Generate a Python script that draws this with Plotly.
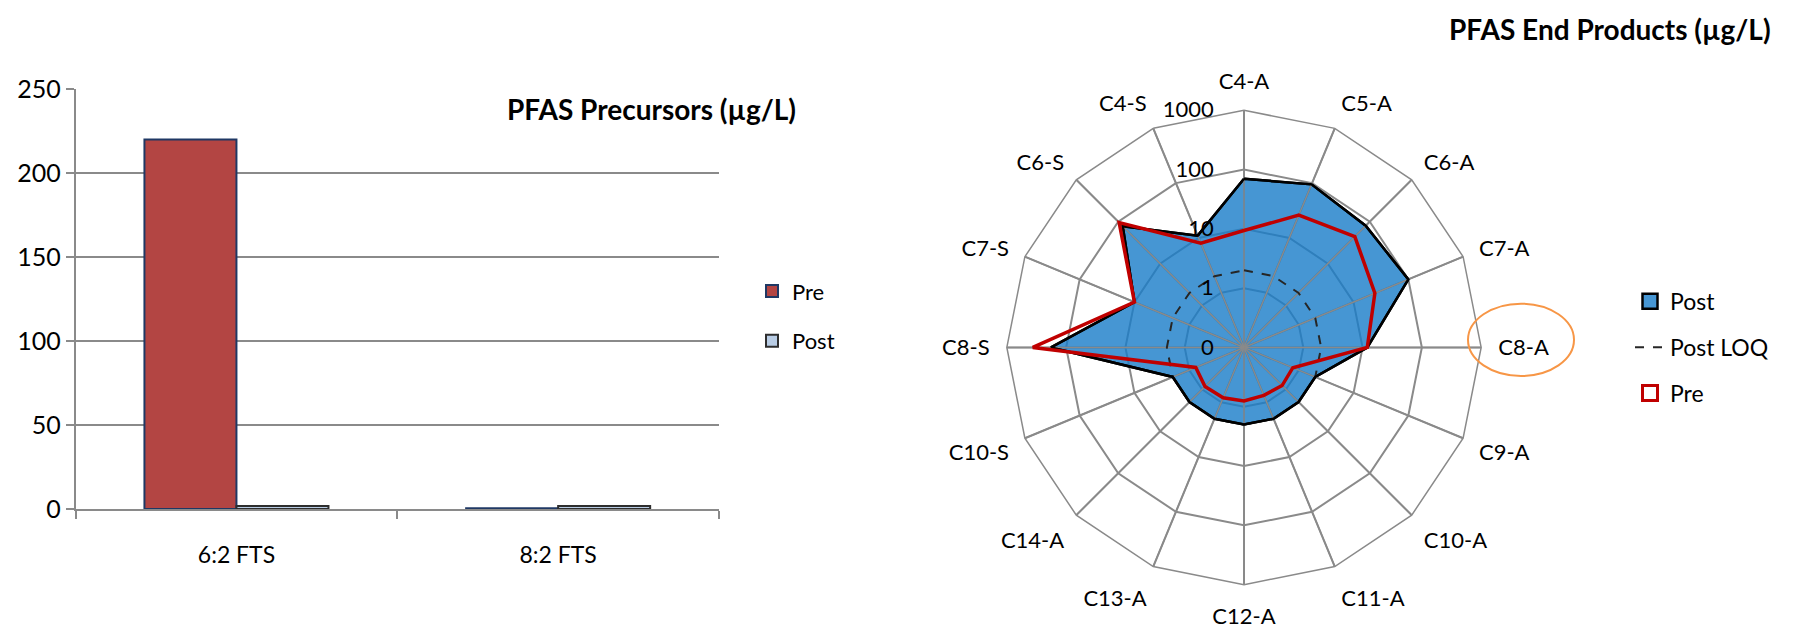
import plotly.graph_objects as go

W, H = 1800, 631
FONT = "Lato"
GRID = "#8a8a8a"
POST_BLUE = "rgba(24,124,200,0.80)"

# ---- PFAS precursors (grouped bars) ----
precursors = ["6:2 FTS", "8:2 FTS"]
pre_precursor = [220, 0.5]
post_precursor = [1.8, 1.8]
bar_ticks = [0, 50, 100, 150, 200, 250]

# ---- PFAS end products (radar, log radius) ----
end_products = ["C4-A", "C5-A", "C6-A", "C7-A", "C8-A", "C9-A", "C10-A", "C11-A",
                "C12-A", "C13-A", "C14-A", "C10-S", "C8-S", "C7-S", "C6-S", "C4-S"]
post_end = [70, 95, 80, 100, 12, 2, 2, 2, 2, 2, 2, 2, 180, 10, 78, 11]
post_loq = [2, 2, 2, 2, 2, 2, 2, 2, 2, 2, 2, 2, 2, 2, 2, 2]
pre_end = [9.4, 26, 44, 24.5, 12, 0.78, 0.81, 0.75, 0.8, 0.83, 0.85, 0.76, 365, 10, 95, 8]
radial_ticks = [0.1, 1, 10, 100, 1000]
radial_tick_labels = ["0", "1", "10", "100", "1000"]


def closed(values):
    return list(values) + [values[0]]


def px_x(p):
    return p / W


def px_y(p):
    return 1 - p / H


fig = go.Figure()

# bars
fig.add_trace(go.Bar(
    x=precursors, y=pre_precursor, name="Pre",
    marker=dict(color="#b34543", line=dict(color="#1f3864", width=2)),
    legend="legend", legendgroup="bp",
))
fig.add_trace(go.Bar(
    x=precursors, y=post_precursor, name="Post",
    marker=dict(color="#b9cde5", line=dict(color="#2e2e2e", width=2)),
    legend="legend", legendgroup="bq",
))

# radar: Post area
theta_c = closed(end_products)
fig.add_trace(go.Scatterpolar(
    r=closed(post_end), theta=theta_c, name="Post", mode="lines",
    fill="toself", fillcolor=POST_BLUE,
    line=dict(color="black", width=2.5), showlegend=False,
))

# spokes drawn over the filled area
spoke_r, spoke_t = [], []
for cat in end_products:
    spoke_r += [radial_ticks[0], radial_ticks[-1], None]
    spoke_t += [cat, cat, None]
fig.add_trace(go.Scatterpolar(
    r=spoke_r, theta=spoke_t, mode="lines", showlegend=False,
    line=dict(color=GRID, width=1.5), hoverinfo="skip", connectgaps=False,
))

# Post LOQ
fig.add_trace(go.Scatterpolar(
    r=closed(post_loq), theta=theta_c, name="Post LOQ", mode="lines",
    line=dict(color="#262626", width=2, dash="dash"), showlegend=False,
))

# Post outline on top
fig.add_trace(go.Scatterpolar(
    r=closed(post_end), theta=theta_c, mode="lines", showlegend=False,
    line=dict(color="black", width=2.5), hoverinfo="skip",
))

# Pre
fig.add_trace(go.Scatterpolar(
    r=closed(pre_end), theta=theta_c, name="Pre", mode="lines",
    line=dict(color="#c00000", width=3.5), showlegend=False,
))

# legend entries for the radar series (square swatches)
fig.add_trace(go.Scatterpolar(
    r=[None], theta=[end_products[0]], name="Post", mode="markers",
    marker=dict(symbol="square", size=15, color=POST_BLUE, line=dict(color="black", width=2.5)),
    legend="legend2", legendgroup="rp", hoverinfo="skip",
))
fig.add_trace(go.Scatterpolar(
    r=[None], theta=[end_products[0]], name="Post LOQ", mode="lines",
    line=dict(color="#262626", width=2, dash="dash"),
    legend="legend2", legendgroup="rl", hoverinfo="skip",
))
fig.add_trace(go.Scatterpolar(
    r=[None], theta=[end_products[0]], name="Pre", mode="markers",
    marker=dict(symbol="square", size=15, color="white", line=dict(color="#c00000", width=3)),
    legend="legend2", legendgroup="rr", hoverinfo="skip",
))

fig.update_layout(
    width=W, height=H,
    margin=dict(l=0, r=0, t=0, b=0),
    paper_bgcolor="white", plot_bgcolor="white",
    font=dict(family=FONT, size=22, color="black"),
    barmode="group", bargap=0.428, bargroupgap=0,
    xaxis=dict(
        domain=[px_x(75.6), px_x(719)],
        showline=True, linecolor=GRID, linewidth=1.5,
        ticks="outside", tickson="boundaries", ticklen=8, tickcolor=GRID, tickwidth=1.5,
        tickfont=dict(size=23), showgrid=False, ticklabelstandoff=25,
    ),
    yaxis=dict(
        domain=[px_y(517.7), px_y(76.7)],
        range=[0, 250], tickvals=bar_ticks,
        showline=True, linecolor=GRID, linewidth=1.5,
        showgrid=True, gridcolor=GRID, gridwidth=1.5, zeroline=False,
        ticks="outside", ticklen=8, tickcolor=GRID, tickwidth=1.5,
        tickfont=dict(size=25),
    ),
    polar=dict(
        domain=dict(x=[px_x(995), px_x(1493)], y=[px_y(597), px_y(99)]),
        bgcolor="white", gridshape="linear",
        radialaxis=dict(
            type="log", range=[-1, 3], tickvals=radial_ticks, ticktext=radial_tick_labels,
            angle=90, side="counterclockwise", tickangle=90,
            showline=False, ticks="outside", ticklen=22, tickcolor="rgba(0,0,0,0)",
            gridcolor=GRID, gridwidth=1.5,
            tickfont=dict(size=22),
        ),
        angularaxis=dict(
            type="category", categoryarray=end_products,
            direction="clockwise", rotation=90,
            showline=True, linecolor=GRID, linewidth=1.5,
            gridcolor=GRID, gridwidth=1.5,
            ticks="outside", ticklen=12, tickcolor="rgba(0,0,0,0)",
            tickfont=dict(size=22),
        ),
    ),
    legend=dict(
        x=px_x(752), y=px_y(267), xanchor="left", yanchor="top",
        font=dict(size=22), traceorder="grouped", tracegroupgap=18,
        bgcolor="rgba(0,0,0,0)",
    ),
    legend2=dict(
        x=px_x(1630), y=px_y(277), xanchor="left", yanchor="top",
        font=dict(size=23), traceorder="grouped", tracegroupgap=13,
        bgcolor="rgba(0,0,0,0)",
    ),
    annotations=[
        dict(text="<b>PFAS Precursors (µg/L)</b>", x=px_x(651), y=px_y(98),
             xref="paper", yref="paper", showarrow=False, font=dict(size=28),
             xanchor="center", yanchor="middle"),
        dict(text="<b>PFAS End Products (µg/L)</b>", x=px_x(1610), y=px_y(14),
             xref="paper", yref="paper", showarrow=False, font=dict(size=28),
             xanchor="center", yanchor="middle"),
    ],
    shapes=[
        dict(type="circle", xref="paper", yref="paper",
             x0=px_x(1468), x1=px_x(1574), y0=px_y(378), y1=px_y(302),
             line=dict(color="#f79646", width=2)),
    ],
)

fig.write_html("out.html")
